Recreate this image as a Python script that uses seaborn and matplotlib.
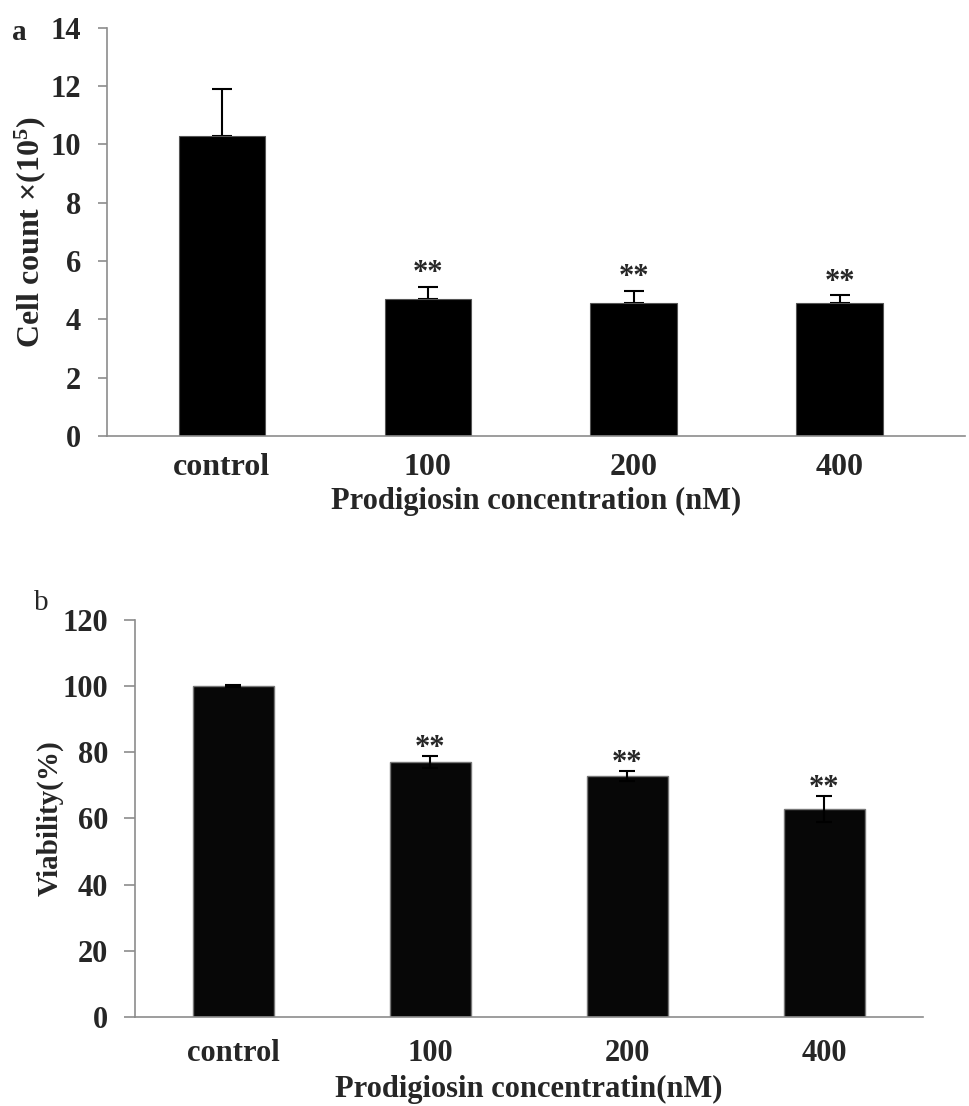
import pandas as pd
import matplotlib.pyplot as plt
import numpy as np
import seaborn as sns

# data
groups = ['control', '100', '200', '400']
cell_count = [10.3, 4.7, 4.55, 4.55]
cell_err = [1.6, 0.42, 0.43, 0.27]
viability = [100.0, 77.0, 72.8, 62.8]
viab_err = [0.2, 1.9, 1.5, 4.0]
signif = ['', '**', '**', '**']

sns.set_style('white')
plt.rcParams['font.family'] = ['Liberation Serif', 'DejaVu Serif']
plt.rcParams['font.weight'] = 'bold'
plt.rcParams['mathtext.fontset'] = 'custom'
plt.rcParams['mathtext.rm'] = 'Liberation Serif:bold'
plt.rcParams['mathtext.default'] = 'rm'

df_a = pd.DataFrame({'group': groups, 'count': cell_count, 'err': cell_err})
df_b = pd.DataFrame({'group': groups, 'viab': viability, 'err': viab_err})

fig = plt.figure(figsize=(9.69, 11.06), dpi=100)
ax1 = fig.add_axes([0.110, 0.6058, 0.886, 0.369])
ax2 = fig.add_axes([0.139, 0.0805, 0.8135, 0.359])

spine_col = '#8c8c8c'


def style_axes(ax, tick_len, tick_pad, ysize, xsize, xpad):
    for s in ['top', 'right']:
        ax.spines[s].set_visible(False)
    for s in ['left', 'bottom']:
        ax.spines[s].set_color(spine_col)
        ax.spines[s].set_linewidth(1.2)
    ax.tick_params(axis='y', which='major', direction='out', length=tick_len, width=1.2,
                   color=spine_col, labelsize=ysize, pad=tick_pad, left=True)
    ax.tick_params(axis='x', which='major', length=0, labelsize=xsize, pad=xpad)
    for lab in ax.get_xticklabels() + ax.get_yticklabels():
        lab.set_fontweight('bold')


x = np.arange(len(groups))

# panel a
sns.barplot(data=df_a, x='group', y='count', color='black', width=0.42,
            edgecolor='#555555', linewidth=0.8, saturation=1, errorbar=None, ax=ax1, zorder=2)
ax1.errorbar(x, df_a['count'], yerr=[np.zeros(len(groups)), df_a['err']], fmt='none',
             ecolor='black', elinewidth=1.5, capsize=7, capthick=1.5, zorder=1)
for i, s in enumerate(signif):
    if s:
        ax1.text(i, cell_count[i] + cell_err[i] - 0.05, s, ha='center', va='bottom',
                 fontsize=22, fontweight='bold')
ax1.set_ylim(0, 14)
ax1.set_yticks(range(0, 15, 2))
ax1.set_xlim(-0.56, 3.61)
ax1.set_xticks([0.5, 1.5, 2.5], minor=True)
ax1.tick_params(axis='x', which='minor', direction='out', length=7, width=1.2, color=spine_col)
ax1.set_xlabel('Prodigiosin concentration (nM)', fontsize=22, fontweight='bold', labelpad=4)
ax1.set_ylabel('Cell count ×(10$^{5}$)', fontsize=23, fontweight='bold')
ax1.yaxis.set_label_coords(-0.068, 0.5)
style_axes(ax1, 6.5, 12, 22, 23, 12)
fig.text(0.012, 0.971, 'a', fontsize=21, fontweight='bold', va='center')

# panel b
sns.barplot(data=df_b, x='group', y='viab', color='#070707', width=0.41,
            edgecolor='#777777', linewidth=1.0, saturation=1, errorbar=None, ax=ax2)
ax2.errorbar(x, df_b['viab'], yerr=df_b['err'], fmt='none',
             ecolor='black', elinewidth=1.5, capsize=6, capthick=1.5)
for i, s in enumerate(signif):
    if s:
        ax2.text(i, viability[i] + viab_err[i] - 2.0, s, ha='center', va='bottom',
                 fontsize=22, fontweight='bold')
ax2.set_ylim(0, 120)
ax2.set_yticks(range(0, 121, 20))
ax2.set_xlim(-0.5, 3.5)
ax2.set_xlabel('Prodigiosin concentratin(nM)', fontsize=22, fontweight='bold', labelpad=5)
ax2.set_ylabel('Viability(%)', fontsize=21, fontweight='bold')
ax2.yaxis.set_label_coords(-0.09, 0.5)
style_axes(ax2, 8, 11, 22, 22, 16)
fig.text(0.035, 0.455, 'b', fontsize=21, fontweight='normal', va='center')

fig.savefig('out.png', dpi=100)
